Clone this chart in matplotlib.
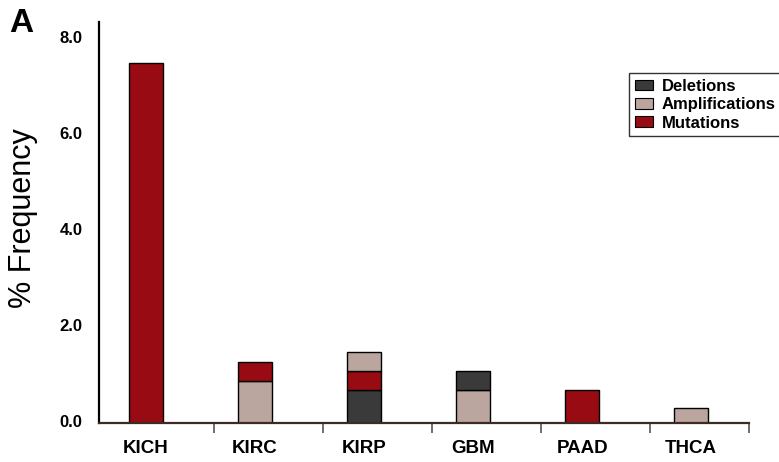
import matplotlib
matplotlib.use("Agg")
import matplotlib.pyplot as plt
import matplotlib.transforms as mtransforms
from matplotlib.patches import Patch
import numpy as np

plt.rcParams['font.family'] = ['Liberation Sans', 'DejaVu Sans']

categories = ["KICH", "KIRC", "KIRP", "GBM", "PAAD", "THCA"]
deletions = [0.0, 0.0, 0.69, 0.39, 0.0, 0.0]
amplifications = [0.0, 0.87, 0.40, 0.69, 0.0, 0.31]
mutations = [7.5, 0.40, 0.39, 0.0, 0.69, 0.0]
# stacking order from bottom for each category
stack_order = [
    ["mut"],
    ["amp", "mut"],
    ["del", "mut", "amp"],
    ["amp", "del"],
    ["mut"],
    ["amp"],
]
yticks = [0.0, 2.0, 4.0, 6.0, 8.0]

colors = {"del": "#3a3a3a", "amp": "#bba59f", "mut": "#980b12"}
values = {"del": deletions, "amp": amplifications, "mut": mutations}

fig = plt.figure(figsize=(7.79, 4.62), dpi=100)
ax = fig.add_axes([99/779, 1 - 423/462, (749-99)/779, (423-22)/462])

x = np.arange(len(categories))
width = 0.31
for i in range(len(categories)):
    bottom = 0.0
    for key in stack_order[i]:
        v = values[key][i]
        if v > 0:
            ax.bar(x[i], v, width=width, bottom=bottom, color=colors[key],
                   edgecolor="black", linewidth=1.0, zorder=2)
            bottom += v

ax.set_xlim(-0.43, 5.53)
ax.set_ylim(0, 8.35)

ax.spines['top'].set_visible(False)
ax.spines['right'].set_visible(False)
ax.spines['left'].set_linewidth(1.6)
ax.spines['left'].set_color("black")
ax.spines['bottom'].set_linewidth(1.6)
ax.spines['bottom'].set_color("#3d2a22")

ax.set_yticks(yticks)
ax.set_yticklabels([f"{t:.1f}" for t in yticks], fontsize=12, fontweight='bold')
ax.tick_params(axis='y', length=0, pad=12)
offset = mtransforms.ScaledTranslation(0, 2/100, fig.dpi_scale_trans)
for lab in ax.get_yticklabels():
    lab.set_transform(lab.get_transform() + offset)

ax.set_xticks(x)
ax.set_xticklabels(categories, fontsize=13.5, fontweight='bold')
ax.tick_params(axis='x', which='major', length=0, pad=12)
ax.set_xticks([0.62, 1.62, 2.62, 3.62, 4.62, 5.53], minor=True)
ax.tick_params(axis='x', which='minor', length=7, width=1.2, color="#555555", direction='out')

fig.text(23/779, 1 - 218/462, "% Frequency", rotation=90, fontsize=22,
         ha='center', va='center')
fig.text(9/779, 1 - 8/462, "A", fontsize=24, fontweight='bold', ha='left', va='top')

handles = [Patch(facecolor=colors["del"], edgecolor="black", linewidth=0.8, label="Deletions"),
           Patch(facecolor=colors["amp"], edgecolor="black", linewidth=0.8, label="Amplifications"),
           Patch(facecolor=colors["mut"], edgecolor="black", linewidth=0.8, label="Mutations")]
leg = fig.legend(handles=handles, loc='upper left', bbox_to_anchor=(629/779, 1 - 73/462),
                 prop={'size': 12, 'weight': 'bold'}, frameon=True, fancybox=False,
                 edgecolor="black", borderpad=0.35, labelspacing=0.2, handlelength=1.1,
                 handleheight=0.6, handletextpad=0.5, borderaxespad=0)
leg.get_frame().set_linewidth(1.0)

fig.savefig("out.png", dpi=100)
